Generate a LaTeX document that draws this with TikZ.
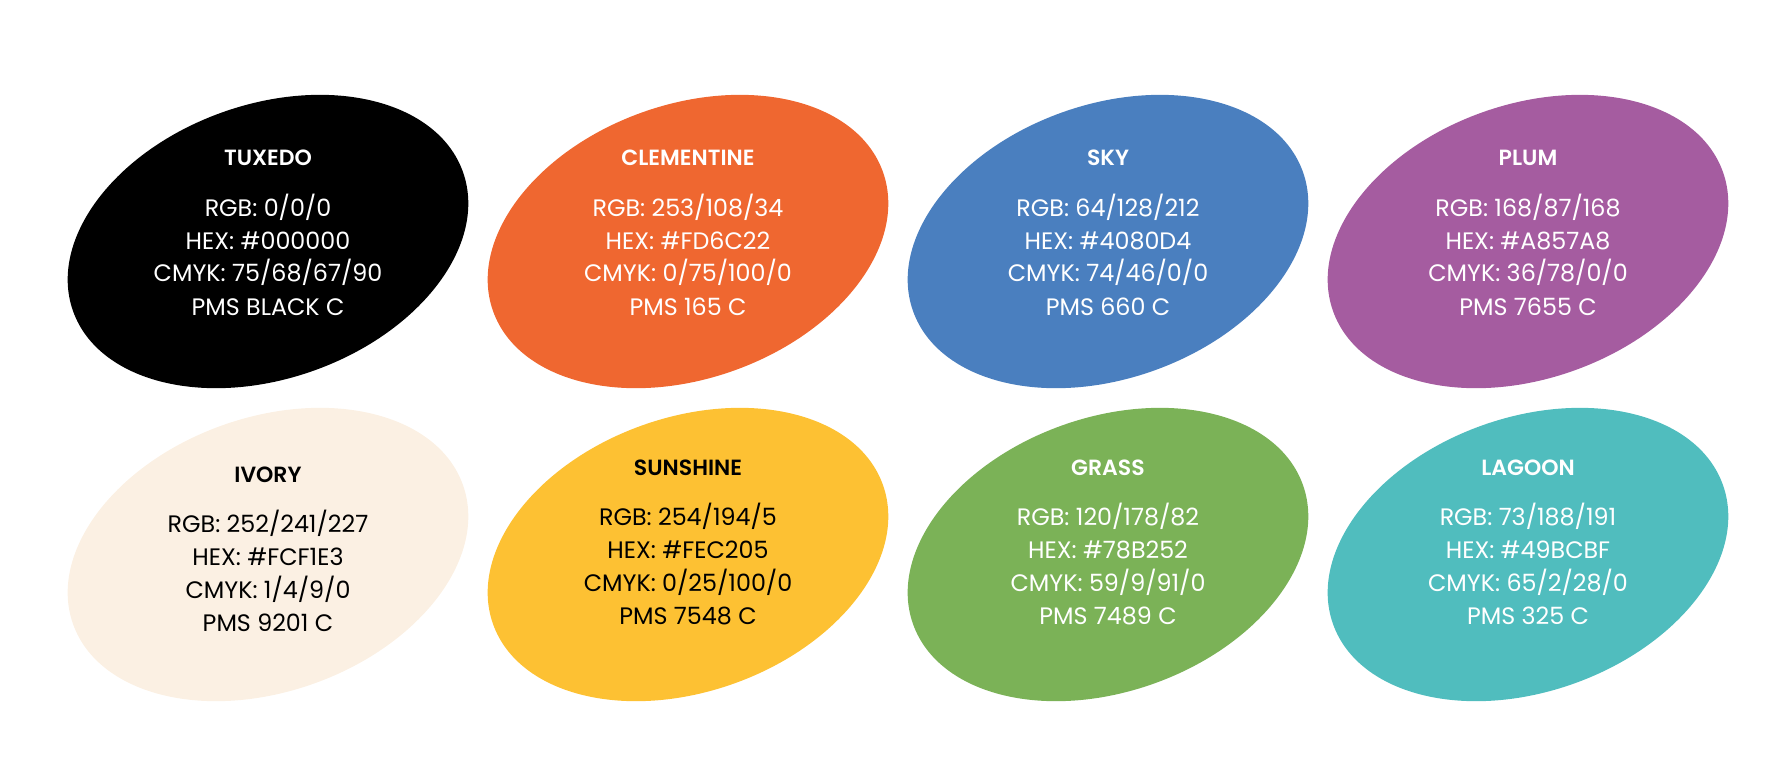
\documentclass[tikz,border=0pt]{standalone}
\usepackage{fontspec}
\setmainfont{Poppins}[BoldFont={Poppins SemiBold}]
\usetikzlibrary{calc}
\definecolor{tuxedo}{HTML}{000000}
\definecolor{clementine}{HTML}{EF6730}
\definecolor{sky}{HTML}{4A7FBF}
\definecolor{plum}{HTML}{A55CA0}
\definecolor{ivory}{HTML}{FBF0E3}
\definecolor{sunshine}{HTML}{FDC133}
\definecolor{grass}{HTML}{7BB257}
\definecolor{lagoon}{HTML}{50BDBE}
\newcommand\swatchblob[3]{%
  \coordinate (#1) at #2;
  \fill[#3, rotate around={19.7:(#1)}] (#1) ellipse [x radius=207, y radius=137];}
\newcommand\swatchtext[8]{%
  \node[ttl, text=#2] (#1-t) at ($(#1)+(0,-76+#3)$) {#4};
  \node[info, text=#2] (#1-a) at ($(#1)+(0,-25.2+#3)$) {#5};
  \node[info, text=#2] (#1-b) at ($(#1)+(0,7.8+#3)$) {#6};
  \node[info, text=#2] (#1-c) at ($(#1)+(0,40.3+#3)$) {#7};
  \node[info, text=#2] (#1-d) at ($(#1)+(0,73.8+#3)$) {#8};}
\begin{document}
\begin{tikzpicture}[x=0.5pt,y=-0.5pt,
  ttl/.style={anchor=base, inner sep=0pt, font=\fontsize{11}{12}\selectfont\bfseries},
  info/.style={anchor=base, inner sep=0pt, font=\fontsize{11.9}{14}\selectfont}]
\useasboundingbox (0,0) rectangle (1791,767);
\swatchblob{tux}{(268,241.5)}{tuxedo}
\swatchblob{cle}{(688,241.5)}{clementine}
\swatchblob{sky}{(1108,241.5)}{sky}
\swatchblob{plu}{(1528,241.5)}{plum}
\swatchblob{ivo}{(268,554.5)}{ivory}
\swatchblob{sun}{(688,554.5)}{sunshine}
\swatchblob{gra}{(1108,554.5)}{grass}
\swatchblob{lag}{(1528,554.5)}{lagoon}
\swatchtext{tux}{white}{0}{TUXEDO}{RGB: 0/0/0}{HEX: \#000000}{CMYK: 75/68/67/90}{PMS BLACK C}
\swatchtext{cle}{white}{0}{CLEMENTINE}{RGB: 253/108/34}{HEX: \#FD6C22}{CMYK: 0/75/100/0}{PMS 165 C}
\swatchtext{sky}{white}{0}{SKY}{RGB: 64/128/212}{HEX: \#4080D4}{CMYK: 74/46/0/0}{PMS 660 C}
\swatchtext{plu}{white}{0}{PLUM}{RGB: 168/87/168}{HEX: \#A857A8}{CMYK: 36/78/0/0}{PMS 7655 C}
\swatchtext{ivo}{black}{3.5}{IVORY}{RGB: 252/241/227}{HEX: \#FCF1E3}{CMYK: 1/4/9/0}{PMS 9201 C}
\swatchtext{sun}{black}{-3.5}{SUNSHINE}{RGB: 254/194/5}{HEX: \#FEC205}{CMYK: 0/25/100/0}{PMS 7548 C}
\swatchtext{gra}{white}{-3.5}{GRASS}{RGB: 120/178/82}{HEX: \#78B252}{CMYK: 59/9/91/0}{PMS 7489 C}
\swatchtext{lag}{white}{-3.5}{LAGOON}{RGB: 73/188/191}{HEX: \#49BCBF}{CMYK: 65/2/28/0}{PMS 325 C}
\end{tikzpicture}
\end{document}
